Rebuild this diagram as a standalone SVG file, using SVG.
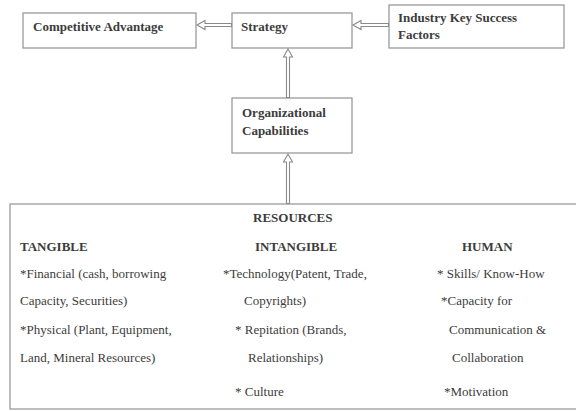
<svg xmlns="http://www.w3.org/2000/svg" width="576" height="411" viewBox="0 0 576 411">
<style>
.box{fill:#fff;stroke:#9a9a9a;stroke-width:1.3}
.arr{fill:#fff;stroke:#8a8a8a;stroke-width:1.1;stroke-linejoin:miter}
text{font-family:"Liberation Serif","Times New Roman",serif;font-size:13px;fill:#3c3c3c}
.b{font-weight:bold}
</style>
<rect width="576" height="411" fill="#fff"/>
<g id="resources">
<rect class="box" x="10" y="204" width="580" height="205"/>
<text class="b" x="253" y="222">RESOURCES</text>
<text class="b" x="20" y="251">TANGIBLE</text>
<text class="b" x="255" y="251">INTANGIBLE</text>
<text class="b" x="462" y="251">HUMAN</text>
<text x="20" y="278">*Financial (cash, borrowing</text>
<text x="20" y="305">Capacity, Securities)</text>
<text x="20" y="334">*Physical (Plant, Equipment,</text>
<text x="20" y="362">Land, Mineral Resources)</text>
<text x="223" y="278">*Technology(Patent, Trade,</text>
<text x="244" y="305">Copyrights)</text>
<text x="235" y="334">* Repitation (Brands,</text>
<text x="248" y="362">Relationships)</text>
<text x="235" y="396">* Culture</text>
<text x="437" y="278">* Skills/ Know-How</text>
<text x="441" y="305">*Capacity for</text>
<text x="449" y="334">Communication &amp;</text>
<text x="452" y="362">Collaboration</text>
<text x="444" y="396">*Motivation</text>
</g>
<g id="competitive-advantage">
<rect class="box" x="23" y="13" width="173" height="35"/>
<text class="b" x="33" y="31">Competitive Advantage</text>
</g>
<g id="strategy">
<rect class="box" x="232" y="13" width="120" height="35"/>
<text class="b" x="241" y="31">Strategy</text>
</g>
<g id="industry-ksf">
<rect class="box" x="389" y="5" width="175" height="43"/>
<text class="b" x="398" y="22">Industry Key Success</text>
<text class="b" x="398" y="39">Factors</text>
</g>
<g id="org-capabilities">
<rect class="box" x="232" y="98" width="120" height="55"/>
<text class="b" x="242" y="117">Organizational</text>
<text class="b" x="242" y="135">Capabilities</text>
</g>
<g id="connectors">
<path class="arr" d="M197,25 L205,20.5 L205,23.5 L231.5,23.5 L231.5,26.5 L205,26.5 L205,29.5 Z"/>
<path class="arr" d="M353,25 L361,20.5 L361,23.5 L388.5,23.5 L388.5,26.5 L361,26.5 L361,29.5 Z"/>
<path class="arr" d="M288,49 L283.5,57 L286.5,57 L286.5,97.5 L289.5,97.5 L289.5,57 L292.5,57 Z"/>
<path class="arr" d="M288,154 L283.5,162 L286.5,162 L286.5,203.5 L289.5,203.5 L289.5,162 L292.5,162 Z"/>
</g>
</svg>
